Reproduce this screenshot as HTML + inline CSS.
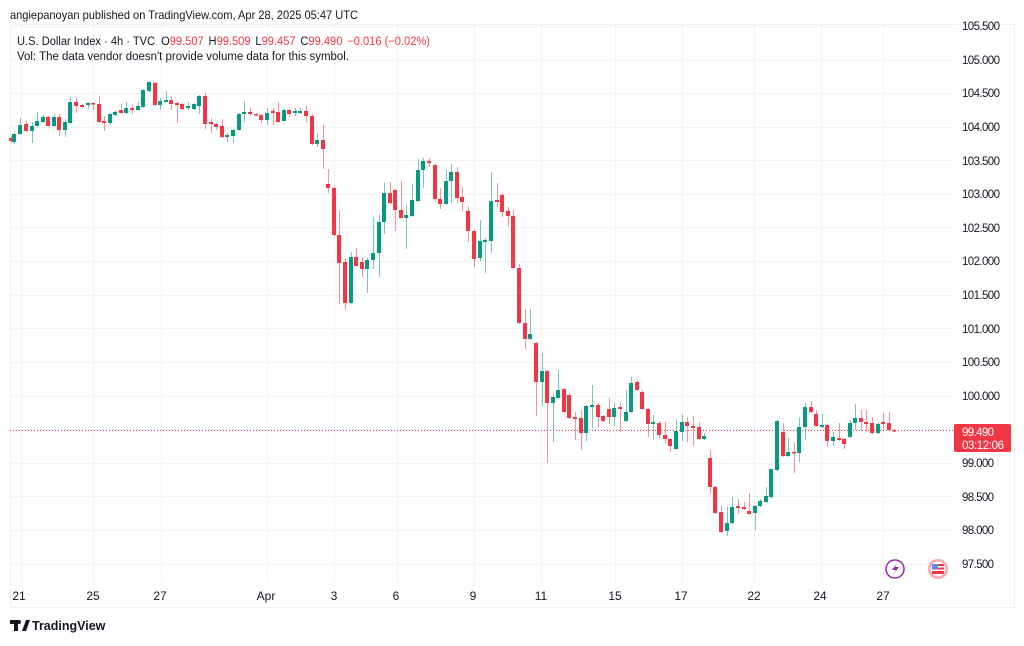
<!DOCTYPE html>
<html><head><meta charset="utf-8"><style>
body{margin:0;background:#fff;width:1024px;height:641px;overflow:hidden;font-family:"Liberation Sans",sans-serif;}
</style></head><body>
<svg width="1024" height="641" xmlns="http://www.w3.org/2000/svg" font-family="Liberation Sans, sans-serif">
<rect x="10.5" y="24.5" width="1004" height="583" fill="#fff" stroke="#eef0f3"/>
<g stroke="#f2f3f5" stroke-width="1">
<line x1="10" x2="953" y1="26.5" y2="26.5"/><line x1="10" x2="953" y1="60.5" y2="60.5"/><line x1="10" x2="953" y1="93.5" y2="93.5"/><line x1="10" x2="953" y1="127.5" y2="127.5"/><line x1="10" x2="953" y1="160.5" y2="160.5"/><line x1="10" x2="953" y1="194.5" y2="194.5"/><line x1="10" x2="953" y1="227.5" y2="227.5"/><line x1="10" x2="953" y1="261.5" y2="261.5"/><line x1="10" x2="953" y1="295.5" y2="295.5"/><line x1="10" x2="953" y1="328.5" y2="328.5"/><line x1="10" x2="953" y1="362.5" y2="362.5"/><line x1="10" x2="953" y1="396.5" y2="396.5"/><line x1="10" x2="953" y1="429.5" y2="429.5"/><line x1="10" x2="953" y1="463.5" y2="463.5"/><line x1="10" x2="953" y1="496.5" y2="496.5"/><line x1="10" x2="953" y1="530.5" y2="530.5"/><line x1="10" x2="953" y1="564.5" y2="564.5"/>
<line x1="21.5" x2="21.5" y1="25" y2="582"/><line x1="93.5" x2="93.5" y1="25" y2="582"/><line x1="161.5" x2="161.5" y1="25" y2="582"/><line x1="267.5" x2="267.5" y1="25" y2="582"/><line x1="334.5" x2="334.5" y1="25" y2="582"/><line x1="397.5" x2="397.5" y1="25" y2="582"/><line x1="474.5" x2="474.5" y1="25" y2="582"/><line x1="541.5" x2="541.5" y1="25" y2="582"/><line x1="615.5" x2="615.5" y1="25" y2="582"/><line x1="682.5" x2="682.5" y1="25" y2="582"/><line x1="754.5" x2="754.5" y1="25" y2="582"/><line x1="821.5" x2="821.5" y1="25" y2="582"/><line x1="883.5" x2="883.5" y1="25" y2="582"/>
</g>
<line x1="10" x2="953" y1="430.5" y2="430.5" stroke="#f23645" stroke-dasharray="1,2" stroke-width="1"/>
<g id="c">
<path stroke="#f23645" stroke-opacity="0.55" d="M11.5 136V143M26.5 121V132M48.5 116V127M59.5 114V136M76.5 98V113M82.5 104V108M93.5 102V110M99.5 96V123M104.5 116V131M121.5 104V114M132.5 104V114M155.5 82V106M171.5 97V110M177.5 102V123M182.5 103V110M205.5 93V129M211.5 118V133M216.5 123V130M222.5 119V138M250.5 108V116M256.5 113V116M261.5 114V123M273.5 108V125M278.5 102V123M289.5 108V117M306.5 106V122M312.5 114V145M323.5 125V169M328.5 169V193M334.5 187V236M339.5 210V304M345.5 258V310M356.5 248V267M362.5 257V277M390.5 182V204M395.5 189V231M401.5 181V219M429.5 158V167M435.5 164V202M440.5 188V209M457.5 167V204M462.5 187V211M468.5 206V242M474.5 229V267M497.5 183V207M502.5 193V217M508.5 207V226M513.5 210V269M519.5 264V324M525.5 309V349M536.5 342V416M547.5 370V463M564.5 388V413M569.5 393V419M575.5 412V440M581.5 410V450M598.5 403V427M603.5 415V422M609.5 398V424M620.5 403V432M637.5 380V391M642.5 390V410M648.5 408V437M659.5 421V438M665.5 422V443M670.5 438V452M687.5 417V442M693.5 416V446M699.5 422V440M710.5 450V494M715.5 486V514M721.5 506V533M738.5 499V514M744.5 502V510M749.5 493V515M783.5 423V457M794.5 443V473M811.5 401V413M816.5 410V427M827.5 424V447M839.5 423V441M844.5 438V449M861.5 410V431M866.5 410V432M872.5 417V434M883.5 413V431M889.5 412V431M894.5 429V432"/>
<path stroke="#089981" stroke-opacity="0.55" d="M14.5 132V144M20.5 118V135M32.5 122V143M37.5 112V127M43.5 115V123M54.5 114V127M65.5 119V137M70.5 97V124M88.5 102V109M110.5 113V125M115.5 111V116M126.5 102V114M138.5 102V111M143.5 89V108M149.5 81V92M160.5 98V110M166.5 91V102M188.5 102V110M194.5 103V110M199.5 95V114M227.5 133V142M233.5 129V143M239.5 113V131M244.5 101V122M267.5 108V125M284.5 109V122M295.5 108V116M300.5 108V114M317.5 133V147M351.5 252V304M367.5 258V293M373.5 217V269M379.5 214V277M384.5 183V234M406.5 205V249M412.5 184V217M418.5 159V202M423.5 158V188M446.5 170V205M451.5 164V203M480.5 220V261M485.5 238V273M491.5 172V253M530.5 309V340M542.5 353V406M553.5 393V442M558.5 370V399M586.5 405V441M592.5 385V428M614.5 403V426M626.5 390V422M631.5 377V413M653.5 415V440M676.5 419V450M682.5 414V441M704.5 433V440M727.5 507V536M732.5 497V524M755.5 505V530M760.5 499V507M766.5 487V503M771.5 469V499M777.5 420V471M788.5 438V457M799.5 418V462M805.5 403V440M822.5 414V428M833.5 432V446M850.5 420V438M855.5 404V430M878.5 422V434"/>
<g fill="#f23645">
<rect x="9" y="138" width="4" height="3"/><rect x="24" y="124" width="4" height="7"/><rect x="46" y="117" width="4" height="9"/><rect x="57" y="117" width="4" height="13"/><rect x="74" y="102" width="4" height="4"/><rect x="80" y="105" width="4" height="2"/><rect x="91" y="103" width="4" height="1.5"/><rect x="97" y="104" width="4" height="18"/><rect x="102" y="121" width="4" height="2"/><rect x="119" y="110" width="4" height="3"/><rect x="130" y="108" width="4" height="2"/><rect x="153" y="83" width="4" height="22"/><rect x="169" y="100" width="4" height="4"/><rect x="175" y="103" width="4" height="2"/><rect x="180" y="104" width="4" height="5"/><rect x="203" y="96" width="4" height="28"/><rect x="209" y="122" width="4" height="2"/><rect x="214" y="124" width="4" height="3"/><rect x="220" y="126" width="4" height="11"/><rect x="248" y="112" width="4" height="2"/><rect x="254" y="114" width="4" height="1.5"/><rect x="259" y="115" width="4" height="5"/><rect x="271" y="111" width="4" height="2"/><rect x="276" y="112" width="4" height="10"/><rect x="287" y="110" width="4" height="4"/><rect x="304" y="111" width="4" height="5"/><rect x="310" y="116" width="4" height="28"/><rect x="321" y="140" width="4" height="9"/><rect x="326" y="184" width="4" height="4"/><rect x="332" y="188" width="4" height="47"/><rect x="337" y="235" width="4" height="28"/><rect x="343" y="262" width="4" height="41"/><rect x="354" y="257" width="4" height="9"/><rect x="360" y="262" width="4" height="7"/><rect x="388" y="193" width="4" height="10"/><rect x="393" y="190" width="4" height="20"/><rect x="399" y="210" width="4" height="8"/><rect x="427" y="161" width="4" height="2"/><rect x="433" y="165" width="4" height="34"/><rect x="438" y="199" width="4" height="5"/><rect x="455" y="172" width="4" height="26"/><rect x="460" y="197" width="4" height="5"/><rect x="466" y="211" width="4" height="20"/><rect x="472" y="231" width="4" height="28"/><rect x="495" y="200" width="4" height="2"/><rect x="500" y="195" width="4" height="17"/><rect x="506" y="211" width="4" height="5"/><rect x="511" y="216" width="4" height="52"/><rect x="517" y="268" width="4" height="55"/><rect x="523" y="323" width="4" height="16"/><rect x="534" y="343" width="4" height="39"/><rect x="545" y="371" width="4" height="32"/><rect x="562" y="389" width="4" height="23"/><rect x="567" y="395" width="4" height="23"/><rect x="573" y="417" width="4" height="2"/><rect x="579" y="418" width="4" height="15"/><rect x="596" y="405" width="4" height="12"/><rect x="601" y="416" width="4" height="5"/><rect x="607" y="409" width="4" height="8"/><rect x="618" y="407" width="4" height="2"/><rect x="635" y="382" width="4" height="8"/><rect x="640" y="392" width="4" height="17"/><rect x="646" y="409" width="4" height="15"/><rect x="657" y="423" width="4" height="12"/><rect x="663" y="435" width="4" height="4"/><rect x="668" y="439" width="4" height="7"/><rect x="685" y="422" width="4" height="4"/><rect x="691" y="426" width="4" height="2"/><rect x="697" y="427" width="4" height="12"/><rect x="708" y="458" width="4" height="29"/><rect x="713" y="487" width="4" height="26"/><rect x="719" y="512" width="4" height="20"/><rect x="736" y="506" width="4" height="2"/><rect x="742" y="507" width="4" height="2"/><rect x="747" y="511" width="4" height="3"/><rect x="781" y="432" width="4" height="24"/><rect x="792" y="452" width="4" height="1.5"/><rect x="809" y="407" width="4" height="5"/><rect x="814" y="414" width="4" height="12"/><rect x="825" y="425" width="4" height="16"/><rect x="837" y="438" width="4" height="2"/><rect x="842" y="439" width="4" height="5"/><rect x="859" y="418" width="4" height="4"/><rect x="864" y="422" width="4" height="2"/><rect x="870" y="423" width="4" height="10"/><rect x="881" y="422" width="4" height="2"/><rect x="887" y="423" width="4" height="7"/><rect x="892" y="430" width="4" height="1.5"/>
</g>
<g fill="#089981">
<rect x="12" y="134" width="4" height="8"/><rect x="18" y="125" width="4" height="9"/><rect x="30" y="126" width="4" height="5"/><rect x="35" y="121" width="4" height="5"/><rect x="41" y="117" width="4" height="5"/><rect x="52" y="117" width="4" height="9"/><rect x="63" y="122" width="4" height="8"/><rect x="68" y="102" width="4" height="21"/><rect x="86" y="103" width="4" height="2"/><rect x="108" y="114" width="4" height="9"/><rect x="113" y="112" width="4" height="3"/><rect x="124" y="108" width="4" height="5"/><rect x="136" y="106" width="4" height="4"/><rect x="141" y="90" width="4" height="17"/><rect x="147" y="82" width="4" height="9"/><rect x="158" y="101" width="4" height="4"/><rect x="164" y="100" width="4" height="2"/><rect x="186" y="106" width="4" height="2"/><rect x="192" y="104" width="4" height="5"/><rect x="197" y="96" width="4" height="10"/><rect x="225" y="135" width="4" height="2"/><rect x="231" y="130" width="4" height="6"/><rect x="237" y="114" width="4" height="16"/><rect x="242" y="112" width="4" height="2"/><rect x="265" y="113" width="4" height="7"/><rect x="282" y="110" width="4" height="11"/><rect x="293" y="111" width="4" height="2"/><rect x="298" y="111" width="4" height="2"/><rect x="315" y="140" width="4" height="4"/><rect x="349" y="257" width="4" height="46"/><rect x="365" y="260" width="4" height="9"/><rect x="371" y="253" width="4" height="7"/><rect x="377" y="222" width="4" height="31"/><rect x="382" y="193" width="4" height="29"/><rect x="404" y="215" width="4" height="3"/><rect x="410" y="200" width="4" height="16"/><rect x="416" y="170" width="4" height="31"/><rect x="421" y="161" width="4" height="9"/><rect x="444" y="181" width="4" height="23"/><rect x="449" y="172" width="4" height="9"/><rect x="478" y="241" width="4" height="17"/><rect x="483" y="240" width="4" height="2"/><rect x="489" y="201" width="4" height="40"/><rect x="528" y="334" width="4" height="5"/><rect x="540" y="371" width="4" height="11"/><rect x="551" y="397" width="4" height="6"/><rect x="556" y="390" width="4" height="8"/><rect x="584" y="406" width="4" height="27"/><rect x="590" y="405" width="4" height="2"/><rect x="612" y="408" width="4" height="9"/><rect x="624" y="412" width="4" height="9"/><rect x="629" y="383" width="4" height="29"/><rect x="651" y="422" width="4" height="2"/><rect x="674" y="431" width="4" height="18"/><rect x="680" y="422" width="4" height="10"/><rect x="702" y="436" width="4" height="3"/><rect x="725" y="523" width="4" height="8"/><rect x="730" y="507" width="4" height="16"/><rect x="753" y="506" width="4" height="7"/><rect x="758" y="501" width="4" height="5"/><rect x="764" y="496" width="4" height="6"/><rect x="769" y="469" width="4" height="28"/><rect x="775" y="421" width="4" height="49"/><rect x="786" y="452" width="4" height="4"/><rect x="797" y="427" width="4" height="26"/><rect x="803" y="407" width="4" height="20"/><rect x="820" y="425" width="4" height="2"/><rect x="831" y="437" width="4" height="4"/><rect x="848" y="423" width="4" height="14"/><rect x="853" y="418" width="4" height="5"/><rect x="876" y="424" width="4" height="9"/>
</g>
</g>
<g font-size="11.5" fill="#131722">
<text x="962" y="30" textLength="38">105.500</text><text x="962" y="64" textLength="38">105.000</text><text x="962" y="97" textLength="38">104.500</text><text x="962" y="131" textLength="38">104.000</text><text x="962" y="165" textLength="38">103.500</text><text x="962" y="198" textLength="38">103.000</text><text x="962" y="232" textLength="38">102.500</text><text x="962" y="265" textLength="38">102.000</text><text x="962" y="299" textLength="38">101.500</text><text x="962" y="333" textLength="38">101.000</text><text x="962" y="366" textLength="38">100.500</text><text x="962" y="400" textLength="38">100.000</text><text x="962" y="467" textLength="32">99.000</text><text x="962" y="501" textLength="32">98.500</text><text x="962" y="534" textLength="32">98.000</text><text x="962" y="568" textLength="32">97.500</text>
</g>
<rect x="954" y="424" width="57" height="28" rx="2" fill="#f23645"/>
<text x="962" y="436" font-size="11.5" fill="#fff" textLength="32">99.490</text>
<text x="962" y="449" font-size="11.5" fill="#fff" textLength="42">03:12:06</text>
<g font-size="12" fill="#131722" text-anchor="middle">
<text x="19" y="600">21</text><text x="93" y="600">25</text><text x="160" y="600">27</text><text x="266" y="600">Apr</text><text x="334" y="600">3</text><text x="396" y="600">6</text><text x="473" y="600">9</text><text x="541" y="600">11</text><text x="615" y="600">15</text><text x="681" y="600">17</text><text x="754" y="600">22</text><text x="820" y="600">24</text><text x="883" y="600">27</text>
</g>
<circle cx="895" cy="569" r="9" fill="#fff" stroke="#9c27b0" stroke-width="1.5"/>
<path d="M897 563 L892 570 H896 L893 575 L899 567 H895 Z" fill="#9c27b0"/>
<circle cx="938" cy="569" r="10" fill="#f7a8ae"/>
<circle cx="938" cy="569" r="7.5" fill="#fff"/>
<rect x="932" y="564" width="12" height="10" fill="#f23645"/>
<rect x="932" y="566" width="12" height="1.5" fill="#fff"/><rect x="932" y="569.5" width="12" height="1.5" fill="#fff"/>
<rect x="932" y="564" width="6" height="5" fill="#5b8ee6"/>
<text x="10" y="19" font-size="12" fill="#131722" textLength="348" lengthAdjust="spacingAndGlyphs">angiepanoyan published on TradingView.com, Apr 28, 2025 05:47 UTC</text>
<text x="17" y="45" font-size="11.5" fill="#131722" textLength="413" lengthAdjust="spacingAndGlyphs">U.S. Dollar Index · 4h · TVC <tspan dx="3">O</tspan><tspan fill="#f23645">99.507</tspan><tspan dx="5">H</tspan><tspan fill="#f23645">99.509</tspan><tspan dx="5">L</tspan><tspan fill="#f23645">99.457</tspan><tspan dx="5">C</tspan><tspan fill="#f23645">99.490</tspan><tspan dx="5" fill="#f23645">−0.016 (−0.02%)</tspan></text>
<text x="17" y="60" font-size="11.5" fill="#131722" textLength="332" lengthAdjust="spacingAndGlyphs">Vol: The data vendor doesn't provide volume data for this symbol.</text>
<path d="M10 620 h8 v11 h-4 v-7 h-4z M19 624 a2 2 0 1 1 0.01 0z M22 631 l4 -11 h4 l-4 11z" fill="#131722"/>
<text x="32" y="630" font-size="12.5" font-weight="bold" fill="#131722">TradingView</text>
</svg>
</body></html>
